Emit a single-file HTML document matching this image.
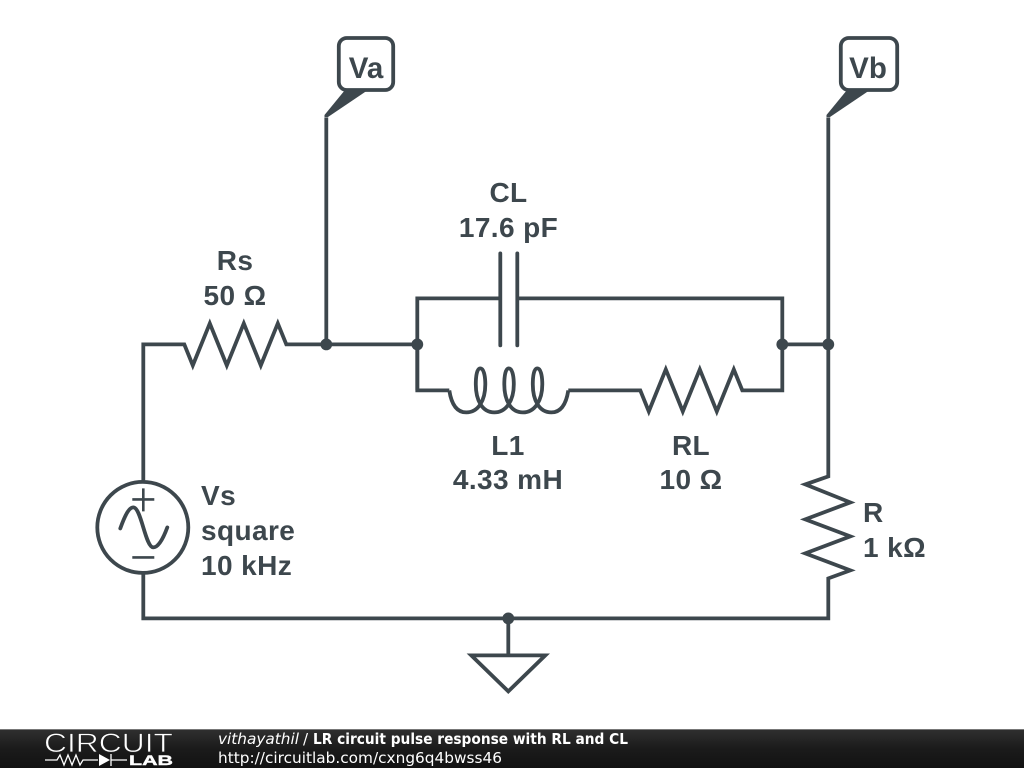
<!DOCTYPE html>
<html><head><meta charset="utf-8"><style>
html,body{margin:0;padding:0;background:#fff;width:1024px;height:768px;overflow:hidden}
svg{display:block}
.l{font-family:"Liberation Sans",Arial,sans-serif;font-weight:700;font-size:28px;letter-spacing:.4px;fill:#3d474d}
.f{font-family:"DejaVu Sans",sans-serif;font-size:15px;fill:#fff}
</style></head><body>
<svg width="1024" height="768" viewBox="0 0 1024 768" xmlns="http://www.w3.org/2000/svg">
<defs><linearGradient id="g" x1="0" y1="0" x2="0" y2="1"><stop offset="0" stop-color="#303030"/><stop offset="0.5" stop-color="#1b1b1b"/><stop offset="1" stop-color="#121212"/></linearGradient></defs>
<g transform="translate(0.3,0.4)">
<g fill="none" stroke="#3d474d" stroke-width="3.8" stroke-linejoin="miter" stroke-linecap="butt">
<path d="M143 480V344H184L192.500 365L209.500 323L226.500 365L243.500 323L260.500 365L277.500 323L286 344H417"/>
<path d="M326 344V117"/>
<path d="M828 117V476L805 484L850 502L805 519L850 536L805 553L850 570L828 578V618H143V573"/>
<path d="M782 344H828"/>
<path d="M449 390H417V298H500M517 298H782V390H742L733.500 369L716.500 411L699.500 369L682.500 411L665.500 369L648.500 411L640 390H568"/>
<path d="M417 344V390"/>
<path d="M500 253V345M517 253V345" stroke-linecap="round"/>
<path d="M449 390C451 403 456 412 466 412C478 412 485 400 485 384C485 374 483 368 480 368C477 368 475.500 374 475.500 384C475.500 400 482 412 494 412C506 412 513.500 400 513.500 384C513.500 374 511.500 368 508.500 368C505.500 368 504 374 504 384C504 400 510.500 412 522.500 412C534.500 412 542 400 542 384C542 374 540 368 537 368C534 368 532.500 374 532.500 384C532.500 400 539 412 551 412C561 412 566 403 568 390"/>
<circle cx="142.500" cy="527" r="45.500"/>
<path d="M120 528C125 514 129 507 133 507C141 507 145 547 153 547C158 547 163 538 167 527" stroke-linecap="round"/>
<path d="M508 618V655M471 655H545L508 691Z"/>
</g>
<path d="M132 499H154M143 488V511M132 557H154" fill="none" stroke="#3d474d" stroke-width="2.600"/>
<g fill="#3d474d">
<circle cx="326" cy="344" r="5.900"/><circle cx="417" cy="344" r="5.900"/><circle cx="782" cy="344" r="5.900"/><circle cx="828" cy="344" r="5.900"/><circle cx="508" cy="618" r="5.900"/>
</g>
</g>
<g fill="none" stroke="#3d474d" stroke-width="3.8">
<rect x="338.800" y="38" width="54.400" height="52" rx="8"/>
<rect x="840.800" y="38" width="56.400" height="52" rx="8"/>
</g>
<g fill="#3d474d">
<path d="M345 90H368L328 117H324.500V115Z"/>
<path d="M847 90H870L830 117H826.500V115Z"/>
</g>
<text class="l" x="366" y="78" text-anchor="middle" style="font-size:29.500px;letter-spacing:0">Va</text>
<text class="l" x="868" y="78" text-anchor="middle" style="font-size:29.500px;letter-spacing:0">Vb</text>
<text class="l" x="235" y="270" text-anchor="middle">Rs</text>
<text class="l" x="235" y="305" text-anchor="middle">50 Ω</text>
<text class="l" x="508.500" y="202" text-anchor="middle">CL</text>
<text class="l" x="508.500" y="237" text-anchor="middle">17.6 pF</text>
<text class="l" x="508" y="455" text-anchor="middle">L1</text>
<text class="l" x="508" y="489" text-anchor="middle">4.33 mH</text>
<text class="l" x="691" y="455" text-anchor="middle">RL</text>
<text class="l" x="691" y="489" text-anchor="middle">10 Ω</text>
<text class="l" x="201" y="505">Vs</text>
<text class="l" x="201" y="540">square</text>
<text class="l" x="201" y="575">10 kHz</text>
<text class="l" x="863" y="522">R</text>
<text class="l" x="863" y="557">1 kΩ</text>
<rect x="0" y="729" width="1024" height="39" fill="url(#g)"/>
<rect x="0" y="729" width="1024" height="1" fill="#777"/>
<text x="44" y="752" stroke="#242424" stroke-width="0.7" fill="#fff" style="font-family:'Liberation Sans',sans-serif;font-size:26.500px" textLength="129" lengthAdjust="spacingAndGlyphs">CIRCUIT</text>
<g fill="none" stroke="#fff" stroke-width="1.300"><path d="M45 760H57L60 755L64 765L68 755L72 765L76 755L80 765L83 760H98M111 760H127M111 754V766"/></g>
<path d="M99 754L110 760L99 766Z" fill="#fff"/>
<text x="129" y="765" stroke="#fff" stroke-width="0.400" style="font-family:'Liberation Sans',sans-serif;font-size:14px;font-weight:700;fill:#fff" textLength="44" lengthAdjust="spacingAndGlyphs">LAB</text>
<text class="f" x="218" y="744" font-style="italic" textLength="81" lengthAdjust="spacingAndGlyphs">vithayathil</text>
<text class="f" x="303" y="744">/</text>
<text class="f" x="313" y="744" font-weight="700" textLength="315" lengthAdjust="spacingAndGlyphs">LR circuit pulse response with RL and CL</text>
<text class="f" x="218" y="763" textLength="284" lengthAdjust="spacingAndGlyphs">http://circuitlab.com/cxng6q4bwss46</text>
</svg>
</body></html>
